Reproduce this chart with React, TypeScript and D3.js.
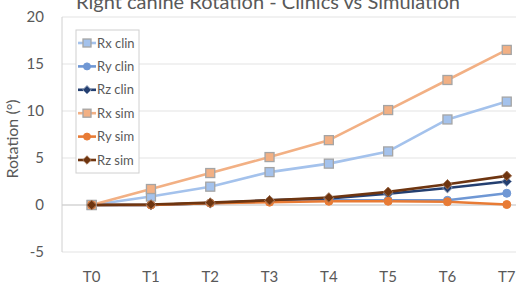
import React from "react";
import * as d3 from "d3";

const categories = ["T0", "T1", "T2", "T3", "T4", "T5", "T6", "T7"];
const rxClin = [0, 0.9, 1.95, 3.5, 4.4, 5.7, 9.1, 11.0];
const ryClin = [0, 0, 0.2, 0.4, 0.5, 0.5, 0.5, 1.25];
const rzClin = [0, 0, 0.2, 0.5, 0.7, 1.2, 1.8, 2.5];
const rxSim = [0, 1.7, 3.4, 5.1, 6.9, 10.1, 13.3, 16.5];
const rySim = [0, 0, 0.2, 0.3, 0.4, 0.4, 0.35, 0.05];
const rzSim = [0, 0.05, 0.25, 0.5, 0.8, 1.4, 2.2, 3.1];
const yTicks = [-5, 0, 5, 10, 15, 20];

type Series = { name: string; values: number[]; color: string; marker: "square" | "circle" | "diamond"; fill: string; stroke: string };

const series: Series[] = [
  { name: "Rx clin", values: rxClin, color: "#A4C2EC", marker: "square", fill: "#A4C2EC", stroke: "#A5A5A5" },
  { name: "Ry clin", values: ryClin, color: "#6F97D4", marker: "circle", fill: "#6F97D4", stroke: "#6F97D4" },
  { name: "Rz clin", values: rzClin, color: "#243F70", marker: "diamond", fill: "#243F70", stroke: "#8A9BB8" },
  { name: "Rx sim", values: rxSim, color: "#F2B084", marker: "square", fill: "#F2B084", stroke: "#A5A5A5" },
  { name: "Ry sim", values: rySim, color: "#E87B35", marker: "circle", fill: "#E87B35", stroke: "#E87B35" },
  { name: "Rz sim", values: rzSim, color: "#6E3510", marker: "diamond", fill: "#6E3510", stroke: "#A07050" },
];

function Marker({ s, x, y, size }: { s: Series; x: number; y: number; size: number }) {
  if (s.marker === "square")
    return <rect x={x - size} y={y - size} width={size * 2} height={size * 2} fill={s.fill} stroke={s.stroke} strokeWidth={1.3} />;
  if (s.marker === "circle") return <circle cx={x} cy={y} r={size} fill={s.fill} stroke={s.stroke} strokeWidth={1} />;
  const d = size * 1.2;
  return <path d={`M${x},${y - d}L${x + d},${y}L${x},${y + d}L${x - d},${y}Z`} fill={s.fill} stroke={s.stroke} strokeWidth={1} />;
}

export default function App() {
  const W = 516, H = 284;
  const left = 62, bandW = 59.3;
  const x = d3.scaleBand<string>().domain(categories).range([left, left + bandW * categories.length]);
  const y = d3.scaleLinear().domain([-5, 20]).range([252, 17]);
  const line = d3.line<number>().x((_, i) => (x(categories[i]) as number) + x.bandwidth() / 2).y((v) => y(v));
  const font = "Lato, 'Open Sans', sans-serif";
  const grey = "#595959";
  return (
    <svg width={W} height={H} style={{ position: "absolute", left: 0, top: 0, background: "#fff" }} fontFamily={font}>
      <text x={268} y={9} textAnchor="middle" fontSize={20} fill={grey}>Right canine Rotation - Clinics vs Simulation</text>
      {yTicks.map((t) => (
        <g key={t}>
          <line x1={left} x2={W} y1={y(t)} y2={y(t)} stroke={t === 0 ? "#BFBFBF" : "#E3E3E3"} strokeWidth={1} />
          <text x={44} y={y(t)} dy="0.35em" textAnchor="end" fontSize={15} fill={grey}>{t}</text>
        </g>
      ))}
      <line x1={left} x2={left} y1={y(20)} y2={y(-5)} stroke="#D0D0D0" />
      {categories.map((c) => (
        <text key={c} x={(x(c) as number) + x.bandwidth() / 2} y={277} dy="0.35em" textAnchor="middle" fontSize={15} fill={grey}>{c}</text>
      ))}
      <text transform={`translate(12,${139}) rotate(-90)`} textAnchor="middle" dy="0.35em" fontSize={16} fill={grey}>Rotation (°)</text>
      {series.map((s) => (
        <path key={s.name} d={line(s.values) || ""} fill="none" stroke={s.color} strokeWidth={2.6} strokeLinejoin="round" />
      ))}
      {series.map((s) =>
        s.values.map((v, i) => (
          <Marker key={s.name + i} s={s} x={(x(categories[i]) as number) + x.bandwidth() / 2} y={y(v)} size={s.marker === "square" ? 4.5 : 4} />
        ))
      )}
      <rect x={76} y={30} width={63} height={143} fill="#fff" stroke="#D0D0D0" />
      {series.map((s, i) => {
        const ly = 43 + i * 23.4;
        return (
          <g key={s.name}>
            <line x1={78} x2={96} y1={ly} y2={ly} stroke={s.color} strokeWidth={2.6} />
            <Marker s={s} x={87} y={ly} size={s.marker === "square" ? 4 : 3.5} />
            <text x={97} y={ly} dy="0.35em" fontSize={13} fill={grey}>{s.name}</text>
          </g>
        );
      })}
    </svg>
  );
}
